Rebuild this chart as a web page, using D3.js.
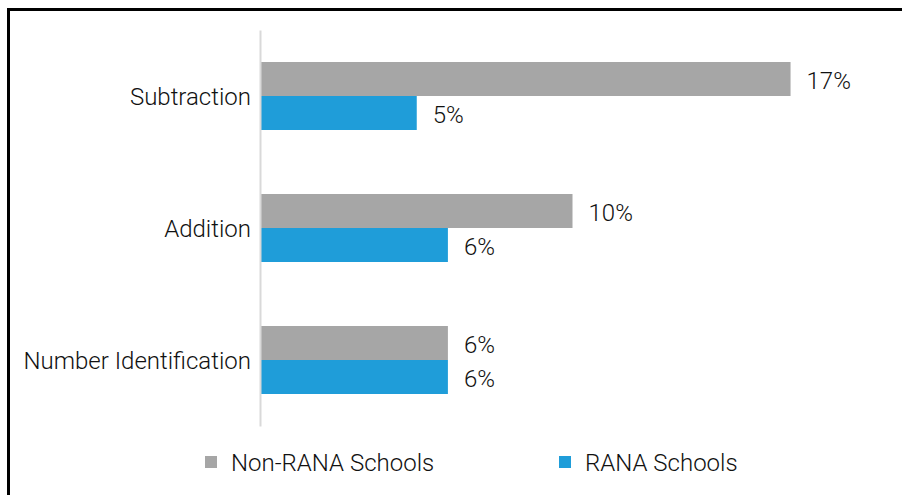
<!DOCTYPE html>
<html>
<head>
<meta charset="utf-8">
<script src="https://cdn.jsdelivr.net/npm/d3@7"></script>
<style>
  html, body { margin: 0; padding: 0; background: #fff; }
  svg { display: block; }
  text { font-family: Roboto, "Liberation Sans", Arial, sans-serif; font-weight: 300; fill: #111; }
</style>
</head>
<body>
<svg id="chart" width="902" height="495"></svg>
<script>
// Share of pupils by skill, two school groups (percent)
const categories = ["Subtraction", "Addition", "Number Identification"];
const seriesNames = ["Non-RANA Schools", "RANA Schools"];
const nonRana = [17, 10, 6];
const rana = [5, 6, 6];
const seriesColors = ["#a6a6a6", "#1f9dd9"];

const svg = d3.select("#chart");
const W = 902, H = 495;
const FS = 24;

// frame: top and left edges only
svg.append("line").attr("x1", 8.5).attr("x2", W).attr("y1", 9.5).attr("y2", 9.5)
  .attr("stroke", "#000").attr("stroke-width", 3);
svg.append("line").attr("x1", 8.5).attr("x2", 8.5).attr("y1", 8).attr("y2", H)
  .attr("stroke", "#000").attr("stroke-width", 3);

const plot = { left: 261, top: 30, bottom: 426 };

const x = d3.scaleLinear().domain([0, 20]).range([plot.left, plot.left + 20 * 31.15]);
const y = d3.scaleBand().domain(categories).range([plot.top, plot.bottom]).paddingInner(0).paddingOuter(0);
const inner = d3.scaleBand().domain(seriesNames).range([0, 68]);

const rows = categories.map((c, i) => ({ cat: c, values: [nonRana[i], rana[i]] }));

const groups = svg.append("g").selectAll("g").data(rows).join("g")
  .attr("transform", d => `translate(0,${y(d.cat) + y.bandwidth() / 2 - 34})`);

groups.selectAll("rect").data(d => d.values.map((v, j) => ({ v, s: seriesNames[j], j })))
  .join("rect")
  .attr("x", x(0))
  .attr("y", d => inner(d.s))
  .attr("width", d => x(d.v) - x(0))
  .attr("height", inner.bandwidth())
  .attr("fill", d => seriesColors[d.j]);

groups.selectAll("text.val").data(d => d.values.map((v, j) => ({ v, s: seriesNames[j] })))
  .join("text").attr("class", "val")
  .attr("x", d => x(d.v) + 16)
  .attr("y", d => inner(d.s) + inner.bandwidth() / 2 + 1)
  .attr("dy", "0.36em")
  .attr("font-size", FS)
  .text(d => d.v + "%");

// category axis
const yAxis = d3.axisLeft(y).tickSize(0).tickPadding(9);
const ax = svg.append("g").attr("transform", `translate(${plot.left - 1},0)`).call(yAxis);
ax.select(".domain").attr("stroke", "#d9d9d9").attr("stroke-width", 2);
ax.selectAll("text").attr("font-size", FS).attr("font-family", null).attr("dy", "0.37em").style("fill", "#111");

// legend
const legendItems = [
  { name: seriesNames[0], color: seriesColors[0], x: 205 },
  { name: seriesNames[1], color: seriesColors[1], x: 559 }
];
const lg = svg.append("g").selectAll("g").data(legendItems).join("g")
  .attr("transform", d => `translate(${d.x},462)`);
lg.append("rect").attr("x", 0).attr("y", -6).attr("width", 12).attr("height", 12).attr("fill", d => d.color);
lg.append("text").attr("x", 26).attr("dy", "0.36em").attr("font-size", FS).text(d => d.name);
</script>
</body>
</html>
